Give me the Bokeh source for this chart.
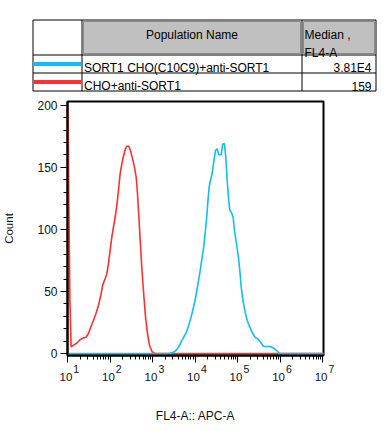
import numpy as np
from bokeh.plotting import figure
from bokeh.models import Range1d, FixedTicker, ColumnDataSource, CustomJSTickFormatter, LogAxis
from bokeh.layouts import column
from bokeh.embed import file_html
from bokeh.resources import INLINE
from bokeh.core.properties import value

# ---------------- data ----------------
population_names = ["SORT1 CHO(C10C9)+anti-SORT1", "CHO+anti-SORT1"]
median_values = ["3.81E4", "159"]
series_colors = ["#10BEF2", "#FF3030"]
header_name = "Population Name"
header_stat = ["Median ,", "FL4-A"]

# x given as log10(FL4-A), y as count
red_log_x = [1.0, 1.015, 1.03, 1.055, 1.085, 1.137, 1.217, 1.295, 1.373, 1.436,
             1.491, 1.547, 1.609, 1.672, 1.727, 1.782, 1.830, 1.884, 1.924, 1.962,
             2.002, 2.042, 2.080, 2.120, 2.160, 2.198, 2.238, 2.278, 2.316, 2.363,
             2.396, 2.443, 2.474, 2.521, 2.568, 2.616, 2.646, 2.679, 2.710, 2.741,
             2.774, 2.804, 2.835, 2.882, 2.929, 2.986, 3.064, 7.05]
red_count = [0, 197, 125, 45, 5.5, 6.6, 8.4, 11.2, 12.7, 13.2,
             16, 21.3, 26.7, 32.5, 38.8, 46.8, 55.6, 60.2, 64.2, 72.3,
             83, 93.8, 101.8, 109.8, 119.2, 131.3, 144.8, 152.9, 158.7, 165,
             167, 167, 164.1, 158.2, 151.4, 142, 128.7, 109.8, 91.1, 72.3,
             56.3, 42.8, 29.4, 16, 6.6, 1.7, 0, 0]

cyan_log_x = [1.0, 3.377, 3.458, 3.535, 3.613, 3.670, 3.731, 3.795, 3.849, 3.906,
              3.967, 4.014, 4.061, 4.108, 4.156, 4.203, 4.236, 4.267, 4.297, 4.330,
              4.361, 4.401, 4.439, 4.479, 4.519, 4.557, 4.613, 4.651, 4.691, 4.722,
              4.755, 4.785, 4.816, 4.863, 4.896, 4.927, 4.974, 5.021, 5.052, 5.085,
              5.132, 5.179, 5.226, 5.288, 5.351, 5.415, 5.476, 5.540, 5.604, 5.682,
              5.759, 5.840, 5.917, 5.981, 6.028, 7.05]
cyan_count = [0, 0, 0.6, 1.9, 5.2, 9.2, 13.2, 17.2, 22.6, 29.3,
              37.9, 45.4, 54.8, 64.3, 75, 85.7, 96.5, 107.2, 120.6, 134,
              139.4, 144.8, 154.1, 163.5, 164.9, 160.1, 160.1, 168.9, 168.9, 158.1,
              139.4, 125.9, 115.8, 113, 109.8, 99.1, 88.4, 77.6, 66.9, 53.5,
              41.4, 33.3, 26.7, 21.3, 16.4, 13.2, 11.9, 9.2, 6, 5.7,
              5.7, 4.7, 2.5, 0.3, 0, 0]

x_decades = [1, 2, 3, 4, 5, 6, 7]
y_ticks = [0, 50, 100, 150, 200]
y_minor = list(range(0, 201, 10))

FONT = "Liberation Sans"

# ---------------- table figure ----------------
TW, TH = 390, 96
t = figure(width=TW, height=TH, x_range=Range1d(0, TW), y_range=Range1d(TH, 0),
           output_backend="svg", toolbar_location=None,
           x_axis_location=None, y_axis_location=None,
           min_border=0, min_border_left=0, min_border_right=0,
           min_border_top=0, min_border_bottom=0)
t.frame_align = False
t.grid.visible = False
t.outline_line_color = None

tl, tr, ttop, tbot = 32.5, 375.5, 19.5, 90.5
c1, c2 = 81.5, 301.5
r1, r2 = 54.5, 72.5

# header gray cells
t.quad(left=[c1 + 1.5, c2 + 1.5], right=[c2 - 1.5, tr - 1.5],
       top=[ttop + 1.5, ttop + 1.5], bottom=[r1 - 1.5, r1 - 1.5],
       fill_color="#C0C0C0", line_color="#8A8A8A", line_width=1)

# grid lines
xs = [[tl, tr], [tl, tr], [tl, tr], [tl, tr], [tl, tl], [c1, c1], [c2, c2], [tr, tr]]
ys = [[ttop, ttop], [r1, r1], [r2, r2], [tbot, tbot], [ttop, tbot], [ttop, tbot], [ttop, tbot], [ttop, tbot]]
t.multi_line(xs=xs, ys=ys, line_color="black", line_width=1)

# legend swatches
row_mid = [(r1 + r2) / 2, (r2 + tbot) / 2]
t.segment(x0=[tl + 0.5] * 2, x1=[c1 - 1] * 2, y0=row_mid, y1=row_mid,
          line_color=series_colors, line_width=4)

# texts
t.text(x=[(c1 + c2) / 2], y=[ttop + 14.5], text=[header_name], text_align="center",
       text_baseline="alphabetic", text_font=value(FONT), text_font_size="12px", text_color="black")
t.text(x=[c2 + 2.5, c2 + 2.5], y=[ttop + 14.5, r1 - 1.8], text=header_stat, text_align="left",
       text_baseline="alphabetic", text_font=value(FONT), text_font_size="12px", text_color="black")
t.text(x=[c1 + 2] * 2, y=[m + 4.3 for m in row_mid], text=population_names, text_align="left",
       text_baseline="alphabetic", text_font=value(FONT), text_font_size="12px", text_color="black")
t.text(x=[tr - 4.5] * 2, y=[m + 4.3 for m in row_mid], text=median_values, text_align="right",
       text_baseline="alphabetic", text_font=value(FONT), text_font_size="12px", text_color="black")

# ---------------- histogram figure ----------------
y_lo, y_hi = -1.5, 203
p = figure(width=390, height=334, x_axis_type="log",
           x_range=Range1d(10 ** 1, 10 ** 7.02), y_range=Range1d(y_lo, y_hi),
           output_backend="svg", toolbar_location=None,
           min_border_left=67, min_border_right=67, min_border_top=5, min_border_bottom=75)
p.frame_align = False
p.grid.visible = False
p.outline_line_color = "black"
p.outline_line_width = 2
p.background_fill_color = "white"
p.border_fill_color = "white"

red_src = ColumnDataSource(dict(x=[10 ** v for v in red_log_x], y=red_count))
cyan_src = ColumnDataSource(dict(x=[10 ** v for v in cyan_log_x], y=cyan_count))
p.line("x", "y", source=red_src, line_color=series_colors[1], line_width=1.6)
p.line("x", "y", source=cyan_src, line_color=series_colors[0], line_width=1.6)

x_ticker = FixedTicker(ticks=[10 ** k for k in x_decades],
                       minor_ticks=[m * 10 ** k for k in x_decades[:-1] for m in range(2, 10)])

# x axis (line, ticks and exponents of the decade labels)
xa = p.xaxis[0]
xa.ticker = x_ticker
xa.formatter = CustomJSTickFormatter(
    code="return '\\u00a0\\u00a0\\u00a0\\u00a0\\u00a0\\u00a0' + Math.round(Math.log10(tick));")
xa.axis_line_width = 2
xa.axis_line_color = "black"
xa.major_tick_in = 0
xa.major_tick_out = 7
xa.minor_tick_in = 0
xa.minor_tick_out = 4
xa.major_tick_line_color = "black"
xa.minor_tick_line_color = "black"
xa.major_label_standoff = 0
xa.major_label_text_font = FONT
xa.major_label_text_font_size = "10.5px"
xa.major_label_text_color = "#111111"

# second row: the base "10" of each decade label
xb = LogAxis(ticker=x_ticker,
             formatter=CustomJSTickFormatter(code="return '10\\u00a0';"))
xb.axis_line_color = None
xb.major_tick_line_color = None
xb.minor_tick_line_color = None
xb.major_tick_in = 0
xb.major_tick_out = 0
xb.minor_tick_in = 0
xb.minor_tick_out = 0
xb.major_label_standoff = -7
xb.major_label_text_font = FONT
xb.major_label_text_font_size = "11.5px"
xb.major_label_text_color = "#111111"
xb.axis_label = "FL4-A:: APC-A"
xb.axis_label_text_font = FONT
xb.axis_label_text_font_size = "12px"
xb.axis_label_text_font_style = "normal"
xb.axis_label_text_color = "#111111"
xb.axis_label_standoff = 23
p.add_layout(xb, "below")

# y axis
ya = p.yaxis[0]
ya.ticker = FixedTicker(ticks=y_ticks, minor_ticks=y_minor)
ya.axis_line_width = 2
ya.axis_line_color = "black"
ya.major_tick_in = 0
ya.major_tick_out = 7
ya.minor_tick_in = 0
ya.minor_tick_out = 4
ya.major_tick_line_color = "black"
ya.minor_tick_line_color = "black"
ya.major_label_standoff = 3
ya.major_label_text_font = FONT
ya.major_label_text_font_size = "12px"
ya.major_label_text_color = "#111111"
ya.axis_label = "Count"
ya.axis_label_text_font = FONT
ya.axis_label_text_font_size = "11.5px"
ya.axis_label_text_font_style = "normal"
ya.axis_label_text_color = "#111111"
ya.axis_label_standoff = 19

layout = column(t, p, spacing=0)
open("out.html", "w").write(file_html(layout, INLINE))
